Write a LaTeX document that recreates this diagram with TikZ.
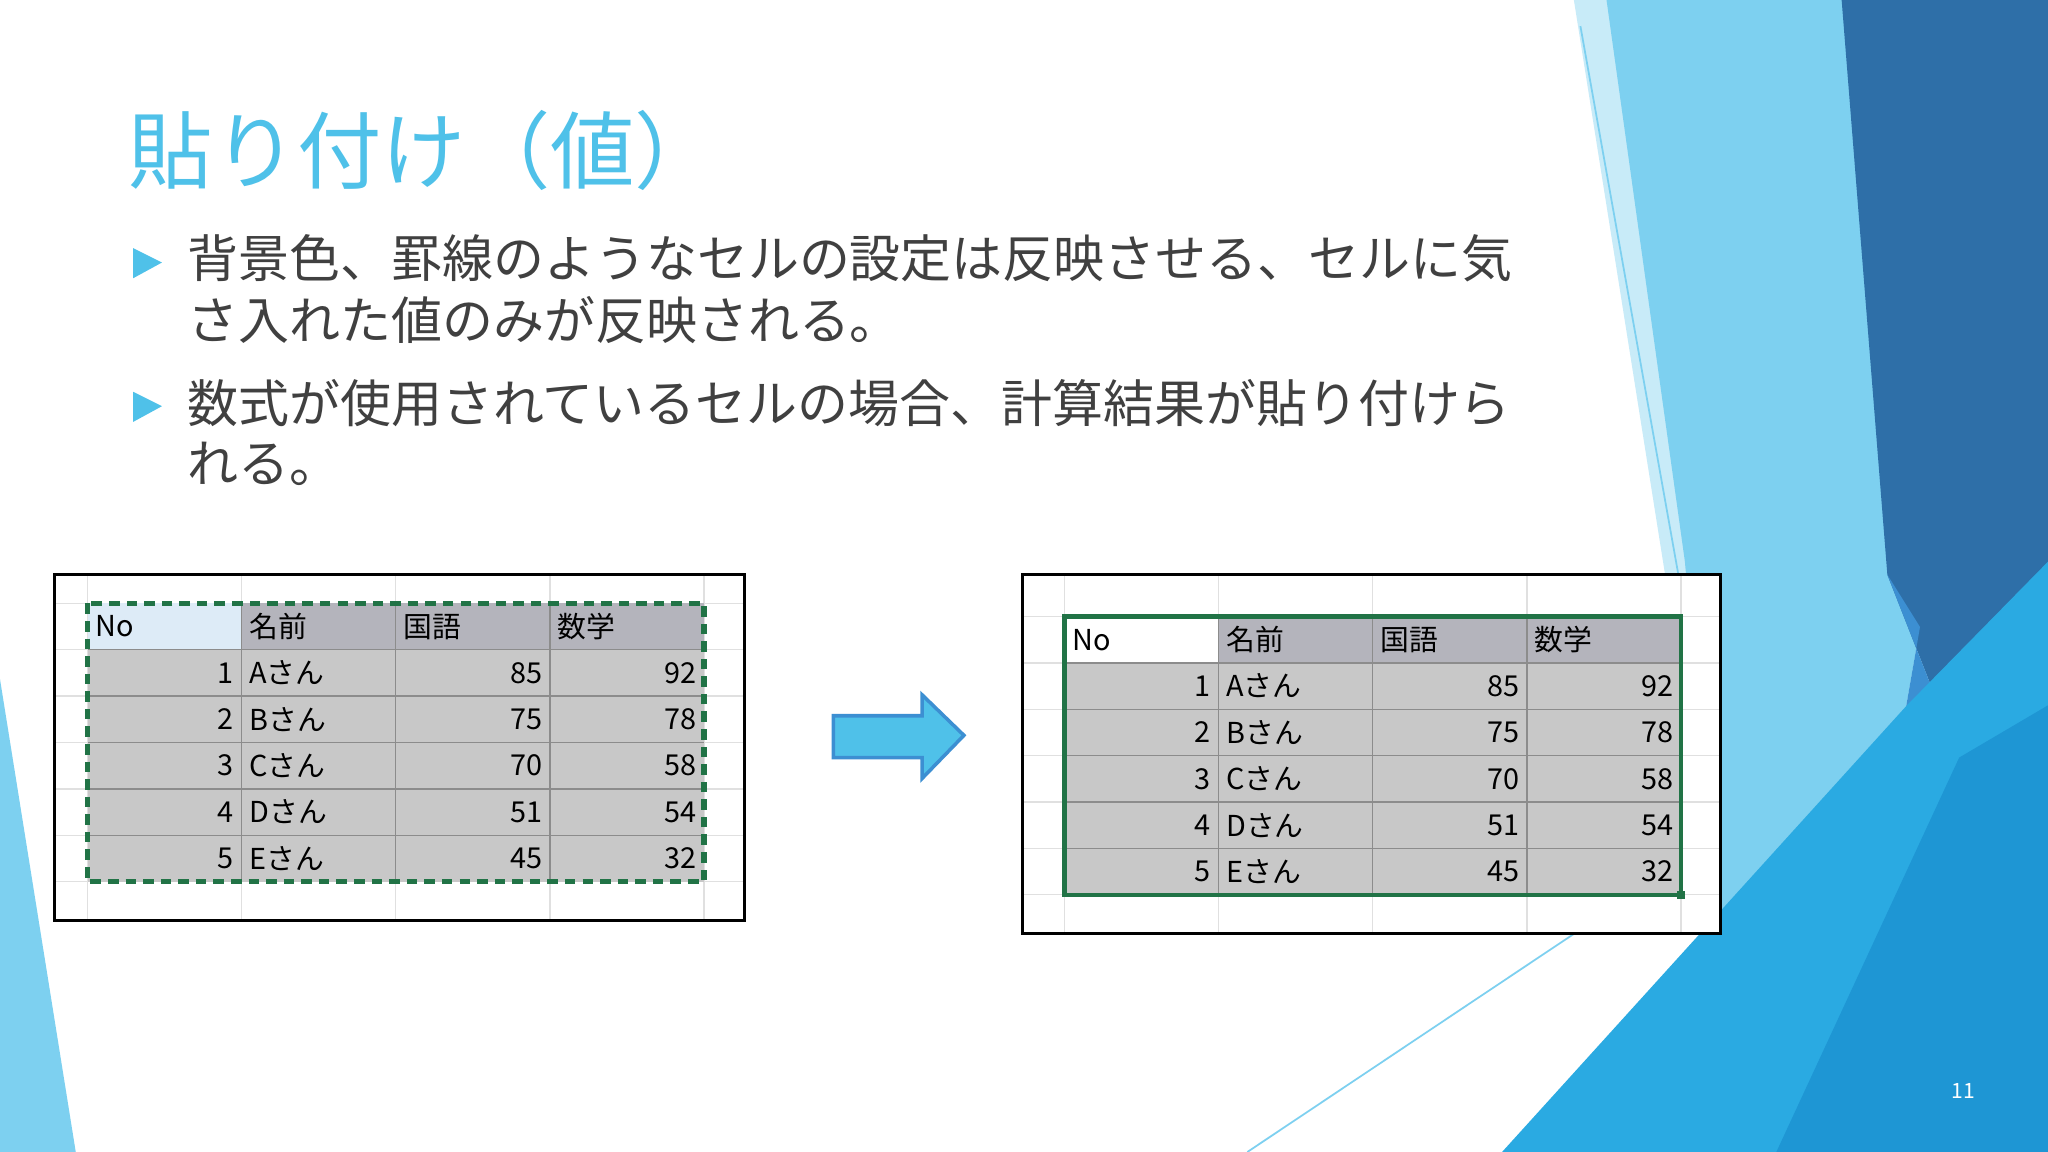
\documentclass[tikz,border=0pt]{standalone}
\usepackage{fontspec}
\setmainfont{Noto Sans CJK JP}
\definecolor{vlight}{HTML}{C8EBF8}
\definecolor{lblue}{HTML}{7DD0F0}
\definecolor{dblue}{HTML}{2E6FA8}
\definecolor{mblue}{HTML}{3C8FD2}
\definecolor{bblue}{HTML}{2AAAE2}
\definecolor{b2blue}{HTML}{1E96D4}
\definecolor{accent}{HTML}{4FC1E9}
\definecolor{hdr}{HTML}{B4B4BC}
\definecolor{dat}{HTML}{C8C8C8}
\definecolor{nohdr}{HTML}{DDEBF7}
\definecolor{grn}{HTML}{217346}
\begin{document}
\begin{tikzpicture}[x=0.013061cm,y=-0.013061cm,
  bul/.style={anchor=west,font=\fontsize{14.5}{17}\selectfont,text=black!75,inner sep=0},
  cell/.style={font=\fontsize{8.2}{9}\selectfont,inner sep=2pt},
  thin/.style={draw=lblue,line width=0.5pt}]
\useasboundingbox (0,0) rectangle (1568,882);
\fill[white] (0,0) rectangle (1568,882);
% right decoration
\fill[vlight] (1205,0) -- (1568,0) -- (1568,882) -- (1345,882) -- cycle;
\fill[lblue] (1230,0) -- (1420,0) -- (1470,480) -- (1400,882) -- (1330,882) -- (1290,430) -- cycle;
\fill[dblue] (1410,0) -- (1568,0) -- (1568,440) -- (1500,580) -- (1445,440) -- cycle;
\fill[mblue] (1445,440) -- (1500,580) -- (1430,882) -- (1400,882) -- (1470,480) -- cycle;
\fill[bblue] (1150,882) -- (1460,540) -- (1568,430) -- (1568,882) -- cycle;
\fill[b2blue] (1360,882) -- (1500,580) -- (1568,540) -- (1568,882) -- cycle;
\draw[thin] (1210,20) -- (1285,440);
\draw[thin] (955,882) -- (1205,715);
\draw[thin] (1320,640) -- (1410,580);
% left decoration
\fill[lblue] (0,520) -- (58,882) -- (0,882) -- cycle;
% title
\node[anchor=west,inner sep=0,text=accent,font=\fontsize{24}{28}\selectfont] (title) at (98,115) {貼り付け（値）};
% bullets
\fill[accent] (102,190) -- (124,201) -- (102,213) -- cycle;
\fill[accent] (102,300) -- (124,311) -- (102,323) -- cycle;
\node[bul] (b1) at (143,198) {背景色、罫線のようなセルの設定は反映させる、セルに気};
\node[bul] (b1b) at (143,245) {さ入れた値のみが反映される。};
\node[bul] (b2) at (143,309) {数式が使用されているセルの場合、計算結果が貼り付けら};
\node[bul] (b2b) at (143,355) {れる。};
% arrow
\draw[fill=accent,draw=mblue,line width=1pt] (638,548) -- (706,548) -- (706,532) -- (738,563) -- (706,596) -- (706,580) -- (638,580) -- cycle;
% tables
\foreach \ox/\oy/\fx/\fy/\fw/\fh/\dash/\hfirst in {67/462/42/440/528/265/1/nohdr, 815/472/783/440/534/275/0/white}{
  \begin{scope}[shift={(\ox,\oy)}]
  \fill[white] (\fx-\ox,\fy-\oy) rectangle ++(\fw,\fh);
  \foreach \gx in {0,118,236,354,472} \draw[black!12] (\gx,\fy-\oy) -- (\gx,\fy-\oy+\fh);
  \foreach \gy in {0,35.5,71,106.5,142,177.5,213} \draw[black!12] (\fx-\ox,\gy) -- (\fx-\ox+\fw,\gy);
  \fill[\hfirst] (0,0) rectangle (118,35.5);
  \fill[hdr] (118,0) rectangle (472,35.5);
  \fill[dat] (0,35.5) rectangle (472,213);
  \foreach \gx in {118,236,354} \draw[black!45] (\gx,0) -- (\gx,213);
  \foreach \gy in {35.5,71,106.5,142,177.5} \draw[black!45] (0,\gy) -- (472,\gy);
  \node[cell,anchor=west] at (0,17.75) {No};
  \node[cell,anchor=west] at (118,17.75) {名前};
  \node[cell,anchor=west] at (236,17.75) {国語};
  \node[cell,anchor=west] at (354,17.75) {数学};
  \foreach \n/\nm/\a/\b [count=\i] in {1/A/85/92,2/B/75/78,3/C/70/58,4/D/51/54,5/E/45/32}{
    \node[cell,anchor=east] at (118,17.75+35.5*\i) {\n};
    \node[cell,anchor=west] at (118,17.75+35.5*\i) {\nm さん};
    \node[cell,anchor=east] at (354,17.75+35.5*\i) {\a};
    \node[cell,anchor=east] at (472,17.75+35.5*\i) {\b};
  }
  \ifnum\dash=1
    \draw[grn,line width=1.5pt,dash pattern=on 3pt off 2pt] (0,0) rectangle (472,213);
  \else
    \draw[grn,line width=1.2pt] (0,0) rectangle (472,213);
    \fill[grn] (469,210) rectangle (475,216);
  \fi
  \draw[black,line width=0.8pt] (\fx-\ox,\fy-\oy) rectangle ++(\fw,\fh);
  \end{scope}
}
\node[text=white,font=\fontsize{6}{7}\selectfont] (pg) at (1503,835) {11};
\end{tikzpicture}
\end{document}
